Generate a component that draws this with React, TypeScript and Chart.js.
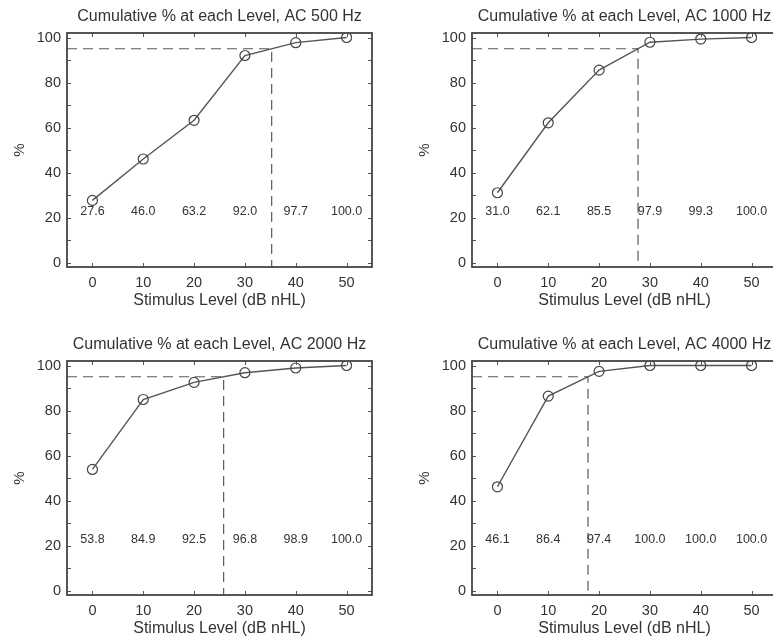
import React, { useEffect, useRef } from "react";
import { Chart, registerables } from "chart.js";

Chart.register(...registerables);

// ---- data ----
const LEVELS = [0, 10, 20, 30, 40, 50];
const PCT_500 = [27.6, 46.0, 63.2, 92.0, 97.7, 100.0];
const PCT_1000 = [31.0, 62.1, 85.5, 97.9, 99.3, 100.0];
const PCT_2000 = [53.8, 84.9, 92.5, 96.8, 98.9, 100.0];
const PCT_4000 = [46.1, 86.4, 97.4, 100.0, 100.0, 100.0];
const TITLES = [
  "Cumulative % at each Level, AC 500 Hz",
  "Cumulative % at each Level, AC 1000 Hz",
  "Cumulative % at each Level, AC 2000 Hz",
  "Cumulative % at each Level, AC 4000 Hz",
];
const X_TICKS = [0, 10, 20, 30, 40, 50];
const Y_TICKS = [0, 20, 40, 60, 80, 100];
const Y_MINOR = [0, 10, 20, 30, 40, 50, 60, 70, 80, 90, 100];
const X_MIN = -5;
const X_MAX = 55;
const Y_MIN = -2;
const Y_MAX = 102;
const CRITERION = 95;
const LABEL_Y = 22.5;
const X_TITLE = "Stimulus Level (dB nHL)";
const Y_TITLE = "%";

const FONT = "'Liberation Sans', Arial, Helvetica, sans-serif";
const TEXT = "#333";

function crossing(xs: number[], ys: number[], level: number): number {
  for (let i = 0; i < ys.length - 1; i++) {
    if (ys[i] < level && ys[i + 1] >= level) {
      return xs[i] + ((level - ys[i]) / (ys[i + 1] - ys[i])) * (xs[i + 1] - xs[i]);
    }
  }
  return xs[xs.length - 1];
}

const framePlugin = {
  id: "frameTicks",
  afterDatasetsDraw(chart: any, _a: any, opts: any) {
    const { ctx, chartArea } = chart;
    const xs = chart.scales.x;
    const ys = chart.scales.y;
    ctx.save();
    // value labels
    ctx.fillStyle = TEXT;
    ctx.font = `12.5px ${FONT}`;
    ctx.textAlign = "center";
    ctx.textBaseline = "middle";
    const vals: number[] = opts.values || [];
    LEVELS.forEach((lv, i) => {
      ctx.fillText(vals[i].toFixed(1), xs.getPixelForValue(lv), ys.getPixelForValue(LABEL_Y));
    });
    // inward ticks
    ctx.strokeStyle = "#555";
    ctx.lineWidth = 1;
    ctx.beginPath();
    X_TICKS.forEach((v) => {
      const px = Math.round(xs.getPixelForValue(v)) + 0.5;
      ctx.moveTo(px, chartArea.bottom);
      ctx.lineTo(px, chartArea.bottom - 4);
      ctx.moveTo(px, chartArea.top);
      ctx.lineTo(px, chartArea.top + 4);
    });
    Y_MINOR.forEach((v) => {
      const py = Math.round(ys.getPixelForValue(v)) + 0.5;
      ctx.moveTo(chartArea.left, py);
      ctx.lineTo(chartArea.left + 4, py);
      ctx.moveTo(chartArea.right, py);
      ctx.lineTo(chartArea.right - 4, py);
    });
    ctx.stroke();
    // frame
    ctx.strokeStyle = "#444";
    ctx.lineWidth = 1.8;
    ctx.strokeRect(chartArea.left, chartArea.top, chartArea.right - chartArea.left, chartArea.bottom - chartArea.top);
    // title
    ctx.fillStyle = TEXT;
    ctx.font = `16px ${FONT}`;
    ctx.textAlign = "center";
    ctx.textBaseline = "middle";
    ctx.fillText(opts.title || "", (chartArea.left + chartArea.right) / 2, 17);
    ctx.restore();
  },
};

function Panel({ title, values, left, top }: { title: string; values: number[]; left: number; top: number }) {
  const ref = useRef<HTMLCanvasElement | null>(null);
  useEffect(() => {
    if (!ref.current) return;
    const cx = crossing(LEVELS, values, CRITERION);
    const chart = new Chart(ref.current, {
      type: "line",
      data: {
        datasets: [
          {
            data: LEVELS.map((x, i) => ({ x, y: values[i] })),
            borderColor: "#555",
            borderWidth: 1.4,
            pointRadius: 5,
            pointBorderWidth: 1.2,
            pointBorderColor: "#444",
            pointBackgroundColor: "rgba(255,255,255,0)",
            tension: 0,
          },
          {
            data: [
              { x: X_MIN, y: CRITERION },
              { x: cx, y: CRITERION },
              { x: cx, y: Y_MIN },
            ],
            borderColor: "#5a5a5a",
            borderWidth: 1.2,
            borderDash: [10, 6],
            pointRadius: 0,
            tension: 0,
          },
        ],
      },
      options: {
        responsive: false,
        animation: false,
        devicePixelRatio: 1,
        events: [],
        layout: { padding: { top: 33, left: 0, right: 18, bottom: 0 } },
        plugins: {
          legend: { display: false },
          title: { display: false },
          tooltip: { enabled: false },
          frameTicks: { title, values },
        } as any,
        scales: {
          x: {
            type: "linear",
            min: X_MIN,
            max: X_MAX,
            grid: { display: false, drawTicks: false },
            border: { display: false },
            afterBuildTicks: (s: any) => {
              s.ticks = X_TICKS.map((v) => ({ value: v }));
            },
            afterFit: (s: any) => {
              s.height = 43;
            },
            ticks: { color: TEXT, font: { size: 14.5, family: FONT }, padding: 7, maxRotation: 0, autoSkip: false },
            title: { display: true, text: X_TITLE, color: TEXT, font: { size: 16, family: FONT }, padding: { top: 0, bottom: 0 } },
          },
          y: {
            type: "linear",
            min: Y_MIN,
            max: Y_MAX,
            grid: { display: false, drawTicks: false },
            border: { display: false },
            afterBuildTicks: (s: any) => {
              s.ticks = Y_TICKS.map((v) => ({ value: v }));
            },
            afterFit: (s: any) => {
              s.width = 67;
            },
            ticks: { color: TEXT, font: { size: 14.5, family: FONT }, padding: 6, autoSkip: false },
            title: { display: true, text: Y_TITLE, color: TEXT, font: { size: 15, family: FONT }, padding: { top: 11, bottom: 0 } },
          },
        },
      },
      plugins: [framePlugin],
    } as any);
    return () => chart.destroy();
  }, [title, values]);
  return (
    <canvas
      ref={ref}
      width={390}
      height={310}
      style={{ position: "absolute", left, top, width: 390, height: 310 }}
    />
  );
}

export default function App() {
  Chart.defaults.font.family = FONT;
  return (
    <div
      style={{
        position: "absolute",
        left: 0,
        top: 0,
        width: 773,
        height: 643,
        overflow: "hidden",
        background: "#fff",
      }}
    >
      <Panel title={TITLES[0]} values={PCT_500} left={0} top={0} />
      <Panel title={TITLES[1]} values={PCT_1000} left={405} top={0} />
      <Panel title={TITLES[2]} values={PCT_2000} left={0} top={328} />
      <Panel title={TITLES[3]} values={PCT_4000} left={405} top={328} />
    </div>
  );
}
